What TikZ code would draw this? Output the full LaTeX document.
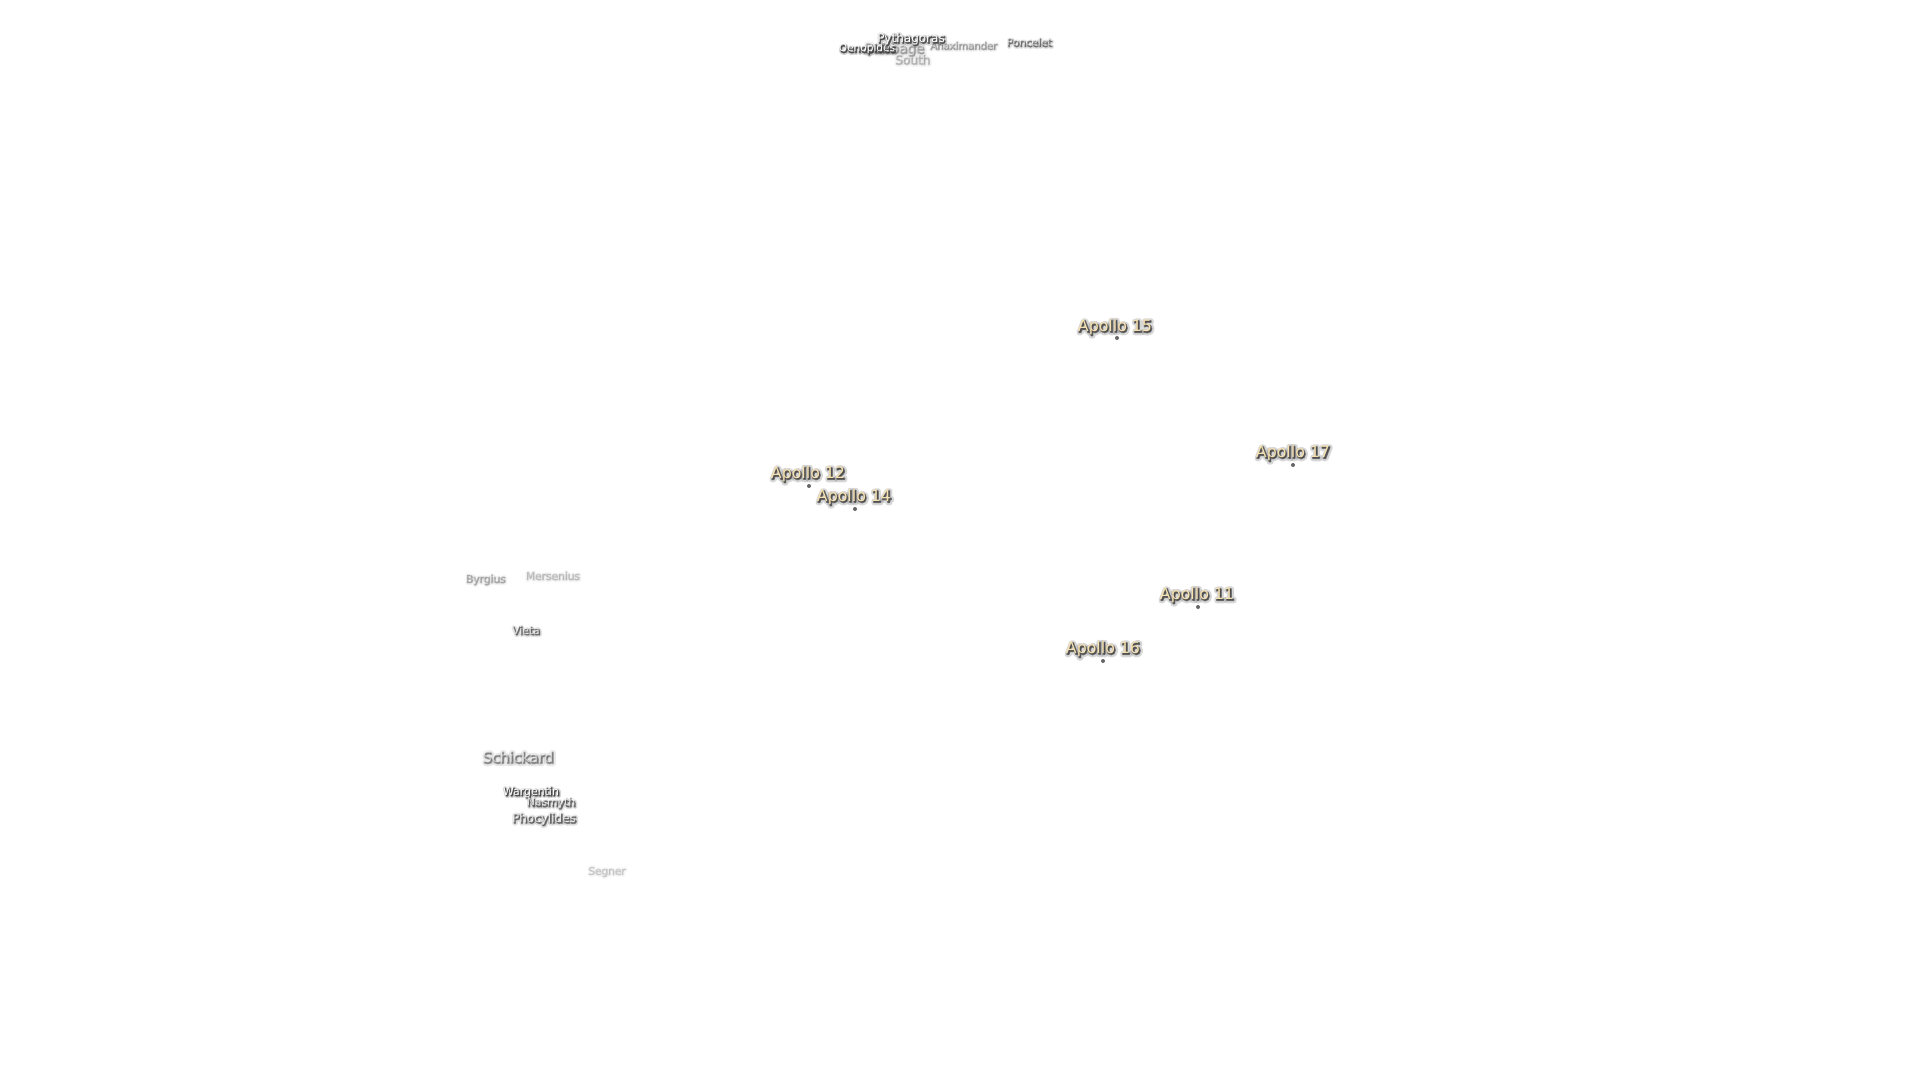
\documentclass[tikz,border=0pt]{standalone}
\usepackage{fontspec}
\setmainfont{DejaVu Sans}
\newfontfamily\haloinner[FakeBold=10]{DejaVu Sans}
\newfontfamily\halowide[FakeBold=35]{DejaVu Sans}
\definecolor{apollotext}{HTML}{F5E0B0}
\definecolor{haloshade}{HTML}{3A3A3A}
\tikzset{
	lab/.style={inner sep=0pt, font=\fontsize{#1}{#1}\selectfont},
	labinner/.style={inner sep=0pt, font=\haloinner\fontsize{#1}{#1}\selectfont},
	labwide/.style={inner sep=0pt, font=\halowide\fontsize{#1}{#1}\selectfont},
	site/.style={circle, fill=black!60, inner sep=0pt, minimum size=4pt}
}
% soft shadow under a label: size, opacity, fill, x, y, name, text
\newcommand{\moonlabel}[7]{
	\begin{scope}[opacity=#2*0.2, line join=round]
		\node[labwide=#1, text=haloshade] at (#4+1.2,#5+1.2) {#7};
	\end{scope}
	\begin{scope}[opacity=#2*0.6, line join=round]
		\node[labinner=#1, text=haloshade] at (#4+1,#5+1) {#7};
	\end{scope}
	\begin{scope}[opacity=#2]
		\node[lab=#1, text=#3] (#6) at (#4,#5) {#7};
	\end{scope}
}
\begin{document}
\begin{tikzpicture}[x=1pt,y=-1pt]
	\useasboundingbox (0,0) rectangle (1920,1080);
	\fill[white] (0,0) rectangle (1920,1080);

	\moonlabel{10}{0.4}{white}{963}{45}{anaximander}{Anaximander}
	\moonlabel{13.5}{0.4}{white}{894}{49}{babbage}{Babbage}
	\moonlabel{12}{0.3}{white}{912}{59}{south}{South}
	\moonlabel{10.5}{0.65}{white}{1029}{42}{poncelet}{Poncelet}
	\moonlabel{10.6}{1}{white}{867}{49}{oenopides}{Oenopides}
	\moonlabel{12}{1}{white}{911}{39}{pythagoras}{Pythagoras}

	\moonlabel{10.6}{0.35}{white}{485}{579}{byrgius}{Byrgius}
	\moonlabel{10.6}{0.25}{white}{552}{575}{mersenius}{Mersenius}
	\moonlabel{10.8}{0.7}{white}{526}{630}{vieta}{Vieta}
	\moonlabel{14.6}{0.55}{white}{518}{757}{schickard}{Schickard}
	\moonlabel{10.9}{1}{white}{531}{792}{wargentin}{Wargentin}
	\moonlabel{10.8}{0.75}{white}{551}{803}{nasmyth}{Nasmyth}
	\moonlabel{12}{0.75}{white}{544}{819}{phocylides}{Phocylides}
	\moonlabel{10.5}{0.2}{white}{606}{871}{segner}{Segner}

	\moonlabel{15.8}{1}{apollotext}{1115}{327}{apollofifteen}{Apollo 15}
	\moonlabel{15.8}{1}{apollotext}{1293}{453}{apolloseventeen}{Apollo 17}
	\moonlabel{15.8}{1}{apollotext}{808}{474}{apollotwelve}{Apollo 12}
	\moonlabel{15.8}{1}{apollotext}{854}{497}{apollofourteen}{Apollo 14}
	\moonlabel{15.8}{1}{apollotext}{1197}{595}{apolloeleven}{Apollo 11}
	\moonlabel{15.8}{1}{apollotext}{1103}{649}{apollosixteen}{Apollo 16}

	\node[site] (sitefifteen) at (1117,338) {};
	\node[site] (siteseventeen) at (1293,465) {};
	\node[site] (sitetwelve) at (809,486) {};
	\node[site] (sitefourteen) at (855,509) {};
	\node[site] (siteeleven) at (1198,607) {};
	\node[site] (sitesixteen) at (1103,661) {};
\end{tikzpicture}
\end{document}
